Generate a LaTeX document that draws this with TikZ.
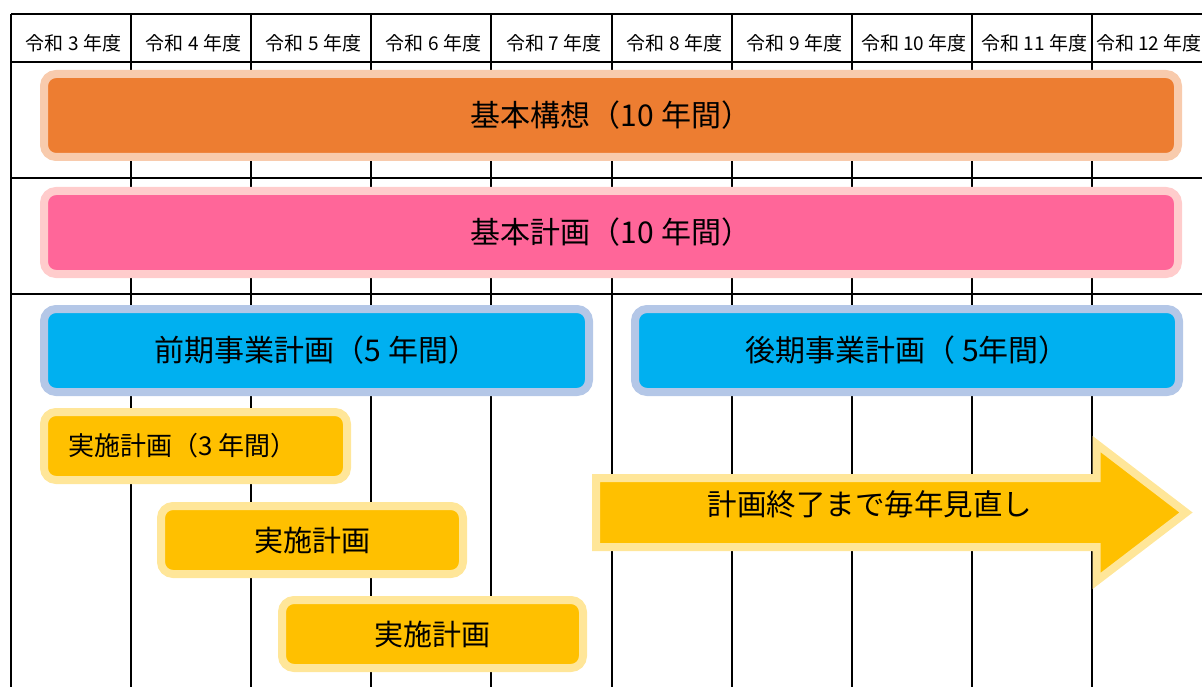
\documentclass[tikz,border=0pt]{standalone}
\usepackage{fontspec}
\setmainfont{Noto Sans CJK JP}
\definecolor{kousou}{HTML}{ED7D31}
\definecolor{kousouedge}{HTML}{F8CBAD}
\definecolor{kihon}{HTML}{FF6699}
\definecolor{kihonedge}{HTML}{FFCCCC}
\definecolor{jigyou}{HTML}{00B0F0}
\definecolor{jigyouedge}{HTML}{B4C7E7}
\definecolor{jisshi}{HTML}{FFC000}
\definecolor{jisshiedge}{HTML}{FFE699}

\begin{document}
\begin{tikzpicture}[x=1pt, y=-1pt,
    grid/.style={line width=2.8pt},
    year/.style={inner sep=0pt, font=\fontsize{19}{19}\selectfont},
    plan/.style={rectangle, rounded corners=12pt, line width=8pt, inner sep=0pt, font=\fontsize{30}{30}\selectfont}]
      \useasboundingbox (0,0) rectangle (1202,687);

      % table lines
      \draw[grid] (11,14) -- (1202,14);
      \draw[grid] (11,62) -- (1202,62);
      \draw[grid] (11,178) -- (1202,178);
      \draw[grid] (11,294) -- (1202,294);
      \draw[grid] (11,14) -- (11,687);
      \draw[grid] (131,14) -- (131,687);
      \draw[grid] (251,14) -- (251,687);
      \draw[grid] (371,14) -- (371,687);
      \draw[grid] (491,14) -- (491,687);
      \draw[grid] (612,14) -- (612,687);
      \draw[grid] (732,14) -- (732,687);
      \draw[grid] (852,14) -- (852,687);
      \draw[grid] (972,14) -- (972,687);
      \draw[grid] (1092,14) -- (1092,687);

      % years
      \node[year] (r3) at (73.5,43) {令和 3 年度};
      \node[year] (r4) at (193.5,43) {令和 4 年度};
      \node[year] (r5) at (313.5,43) {令和 5 年度};
      \node[year] (r6) at (433.5,43) {令和 6 年度};
      \node[year] (r7) at (554,43) {令和 7 年度};
      \node[year] (r8) at (674.5,43) {令和 8 年度};
      \node[year] (r9) at (794.5,43) {令和 9 年度};
      \node[year] (r10) at (914,43) {令和 10 年度};
      \node[year] (r11) at (1034.5,43) {令和 11 年度};
      \node[year] (r12) at (1149,43) {令和 12 年度};

      % plans
      \node[plan, draw=kousouedge, fill=kousou, minimum width=1134pt, minimum height=83pt] (kousou) at (611,115.5) {基本構想（10 年間）};
      \node[plan, draw=kihonedge, fill=kihon, minimum width=1134pt, minimum height=83pt] (kihon) at (611,232.5) {基本計画（10 年間）};
      \node[plan, draw=jigyouedge, fill=jigyou, minimum width=545pt, minimum height=83pt] (zenki) at (316.5,350.5) {前期事業計画（5 年間）};
      \node[plan, draw=jigyouedge, fill=jigyou, minimum width=544pt, minimum height=83pt] (kouki) at (907,350.5) {後期事業計画（ 5年間）};
      \node[plan, draw=jisshiedge, fill=jisshi, minimum width=303pt, minimum height=68pt, font=\fontsize{26}{26}\selectfont] (jisshi1) at (195.5,446) {実施計画（3 年間）　};
      \node[plan, draw=jisshiedge, fill=jisshi, minimum width=302pt, minimum height=68pt, font=\fontsize{29}{29}\selectfont] (jisshi2) at (312,540) {実施計画};
      \node[plan, draw=jisshiedge, fill=jisshi, minimum width=301pt, minimum height=68pt, font=\fontsize{29}{29}\selectfont] (jisshi3) at (432.5,634) {実施計画};

      % yearly review arrow
      \draw[line width=8pt, line join=miter, draw=jisshiedge, fill=jisshi] (596,478) -- (1096.5,478) -- (1096.5,444) -- (1186,512.5) -- (1096.5,581) -- (1096.5,547) -- (596,547) -- cycle;
      \node[inner sep=0pt, font=\fontsize{29.5}{29.5}\selectfont] (minaoshi) at (870,504) {計画終了まで毎年見直し};
\end{tikzpicture}
\end{document}
